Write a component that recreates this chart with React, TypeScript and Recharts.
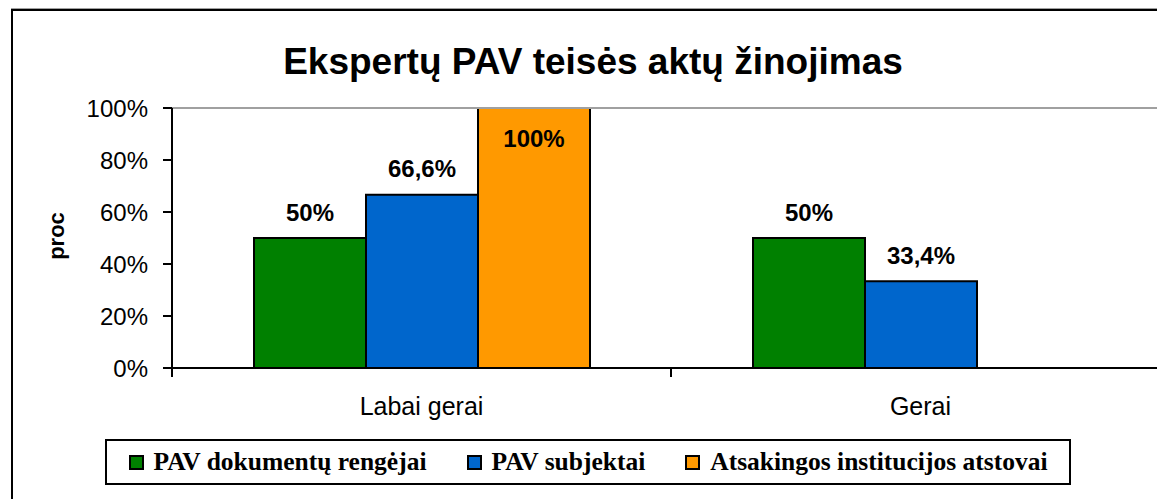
import React from 'react';
import {
    BarChart,
    Bar,
    XAxis,
    YAxis,
    ReferenceLine,
    LabelList
} from 'recharts';

const categories = ['Labai gerai', 'Gerai'];
const rengejai = [50, 50];
const subjektai = [66.6, 33.4];
const institucijos: (number | null)[] = [100, null];
const yTicks = [0, 20, 40, 60, 80, 100];

const series = [
    { key: 'rengejai', name: 'PAV dokumentų rengėjai', color: '#008000', values: rengejai },
    { key: 'subjektai', name: 'PAV subjektai', color: '#0066CC', values: subjektai },
    { key: 'institucijos', name: 'Atsakingos institucijos atstovai', color: '#FF9900', values: institucijos }
];

const data = categories.map((category, i) => {
    const row: Record<string, string | number | null> = { category };
    series.forEach((s) => {
        row[s.key] = s.values[i];
    });
    return row;
});

const SANS = '"Liberation Sans", Arial, sans-serif';
const SERIF = '"Liberation Serif", "Times New Roman", serif';

const formatPct = (v: number) => `${String(v).replace('.', ',')}%`;

const ValueLabel = (props: any) => {
    const { x, y, width, value } = props;
    if (value === null || value === undefined) return null;
    // the 100% label does not fit above the plot, Excel puts it inside the bar
    const inside = value >= 100;
    return (
        <text
            x={x + width / 2}
            y={inside ? y + 30 : y - 26}
            textAnchor="middle"
            dominantBaseline="central"
            fill="#000"
            style={{ fontFamily: SANS, fontSize: 24, fontWeight: 'bold' }}
        >
            {formatPct(value)}
        </text>
    );
};

// Excel puts the x tick marks between the categories, not under them
const CategoryTick = (props: any) => {
    const { x, y, payload, index, visibleTicksCount } = props;
    const half = payload.offset || 0;
    const isLast = index === visibleTicksCount - 1;
    return (
        <g>
            <line x1={x - half} x2={x - half} y1={y} y2={y + 9} stroke="#000" strokeWidth={2} />
            {isLast && <line x1={x + half} x2={x + half} y1={y} y2={y + 9} stroke="#000" strokeWidth={2} />}
            <text
                x={x}
                y={y + 29}
                dy="0.71em"
                textAnchor="middle"
                fill="#000"
                style={{ fontFamily: SANS, fontSize: 25 }}
            >
                {payload.value}
            </text>
        </g>
    );
};

const App: React.FC = () => {
    return (
        <div
            style={{
                position: 'fixed',
                left: 0,
                top: 0,
                width: 1157,
                height: 499,
                overflow: 'hidden',
                background: '#fff'
            }}
        >
            {/* outer chart frame, runs off the right and bottom edge */}
            <div style={{ position: 'absolute', left: 11, top: 8, width: 1400, height: 1, background: '#a0a0a0' }} />
            <div
                style={{
                    position: 'absolute',
                    left: 11,
                    top: 9,
                    width: 1400,
                    height: 700,
                    borderTop: '2px solid #000',
                    borderLeft: '2px solid #000'
                }}
            />

            <div
                style={{
                    position: 'absolute',
                    left: 0,
                    top: 43,
                    width: 1186,
                    textAlign: 'center',
                    fontFamily: SANS,
                    fontSize: 37,
                    fontWeight: 'bold',
                    lineHeight: '37px',
                    color: '#000',
                    whiteSpace: 'nowrap'
                }}
            >
                Ekspertų PAV teisės aktų žinojimas
            </div>

            <div
                style={{
                    position: 'absolute',
                    left: 57,
                    top: 236,
                    transform: 'translate(-50%, -50%) rotate(-90deg)',
                    fontFamily: SANS,
                    fontSize: 22,
                    fontWeight: 'bold',
                    lineHeight: '22px',
                    color: '#000'
                }}
            >
                proc
            </div>

            <div style={{ position: 'absolute', left: 0, top: 0 }}>
                <BarChart
                    width={1200}
                    height={499}
                    data={data}
                    margin={{ top: 108, right: 30, left: 92, bottom: 71 }}
                    barCategoryGap={82}
                    barGap={0}
                >
                    <XAxis
                        xAxisId="cat"
                        dataKey="category"
                        height={60}
                        axisLine={{ stroke: '#000', strokeWidth: 2 }}
                        tickLine={false}
                        tickSize={0}
                        tickMargin={0}
                        interval={0}
                        tick={<CategoryTick />}
                    />
                    <YAxis
                        width={80}
                        domain={[0, 100]}
                        ticks={yTicks}
                        interval={0}
                        tickFormatter={(v) => `${v}%`}
                        tickSize={9}
                        tickMargin={15}
                        tickLine={{ stroke: '#000', strokeWidth: 2 }}
                        axisLine={{ stroke: '#000', strokeWidth: 2 }}
                        tick={{ fill: '#000', fontFamily: SANS, fontSize: 24 }}
                    />
                    <ReferenceLine xAxisId="cat" y={100} stroke="#a0a0a0" strokeWidth={2} />
                    {series.map((s) => (
                        <Bar
                            key={s.key}
                            xAxisId="cat"
                            dataKey={s.key}
                            name={s.name}
                            fill={s.color}
                            stroke="#000"
                            strokeWidth={2}
                            isAnimationActive={false}
                        >
                            <LabelList dataKey={s.key} content={ValueLabel} />
                        </Bar>
                    ))}
                </BarChart>
            </div>

            <div
                style={{
                    position: 'absolute',
                    left: 105,
                    top: 439,
                    width: 966,
                    height: 46,
                    boxSizing: 'border-box',
                    border: '2px solid #000',
                    background: '#fff',
                    display: 'flex',
                    alignItems: 'center',
                    justifyContent: 'center',
                    gap: 40
                }}
            >
                {series.map((s) => (
                    <div key={s.key} style={{ display: 'flex', alignItems: 'center' }}>
                        <div
                            style={{
                                width: 15,
                                height: 15,
                                boxSizing: 'border-box',
                                border: '2px solid #000',
                                background: s.color,
                                marginRight: 10
                            }}
                        />
                        <span
                            style={{
                                fontFamily: SERIF,
                                fontSize: 25.5,
                                fontWeight: 'bold',
                                color: '#000',
                                whiteSpace: 'nowrap'
                            }}
                        >
                            {s.name}
                        </span>
                    </div>
                ))}
            </div>
        </div>
    );
};

export default App;
